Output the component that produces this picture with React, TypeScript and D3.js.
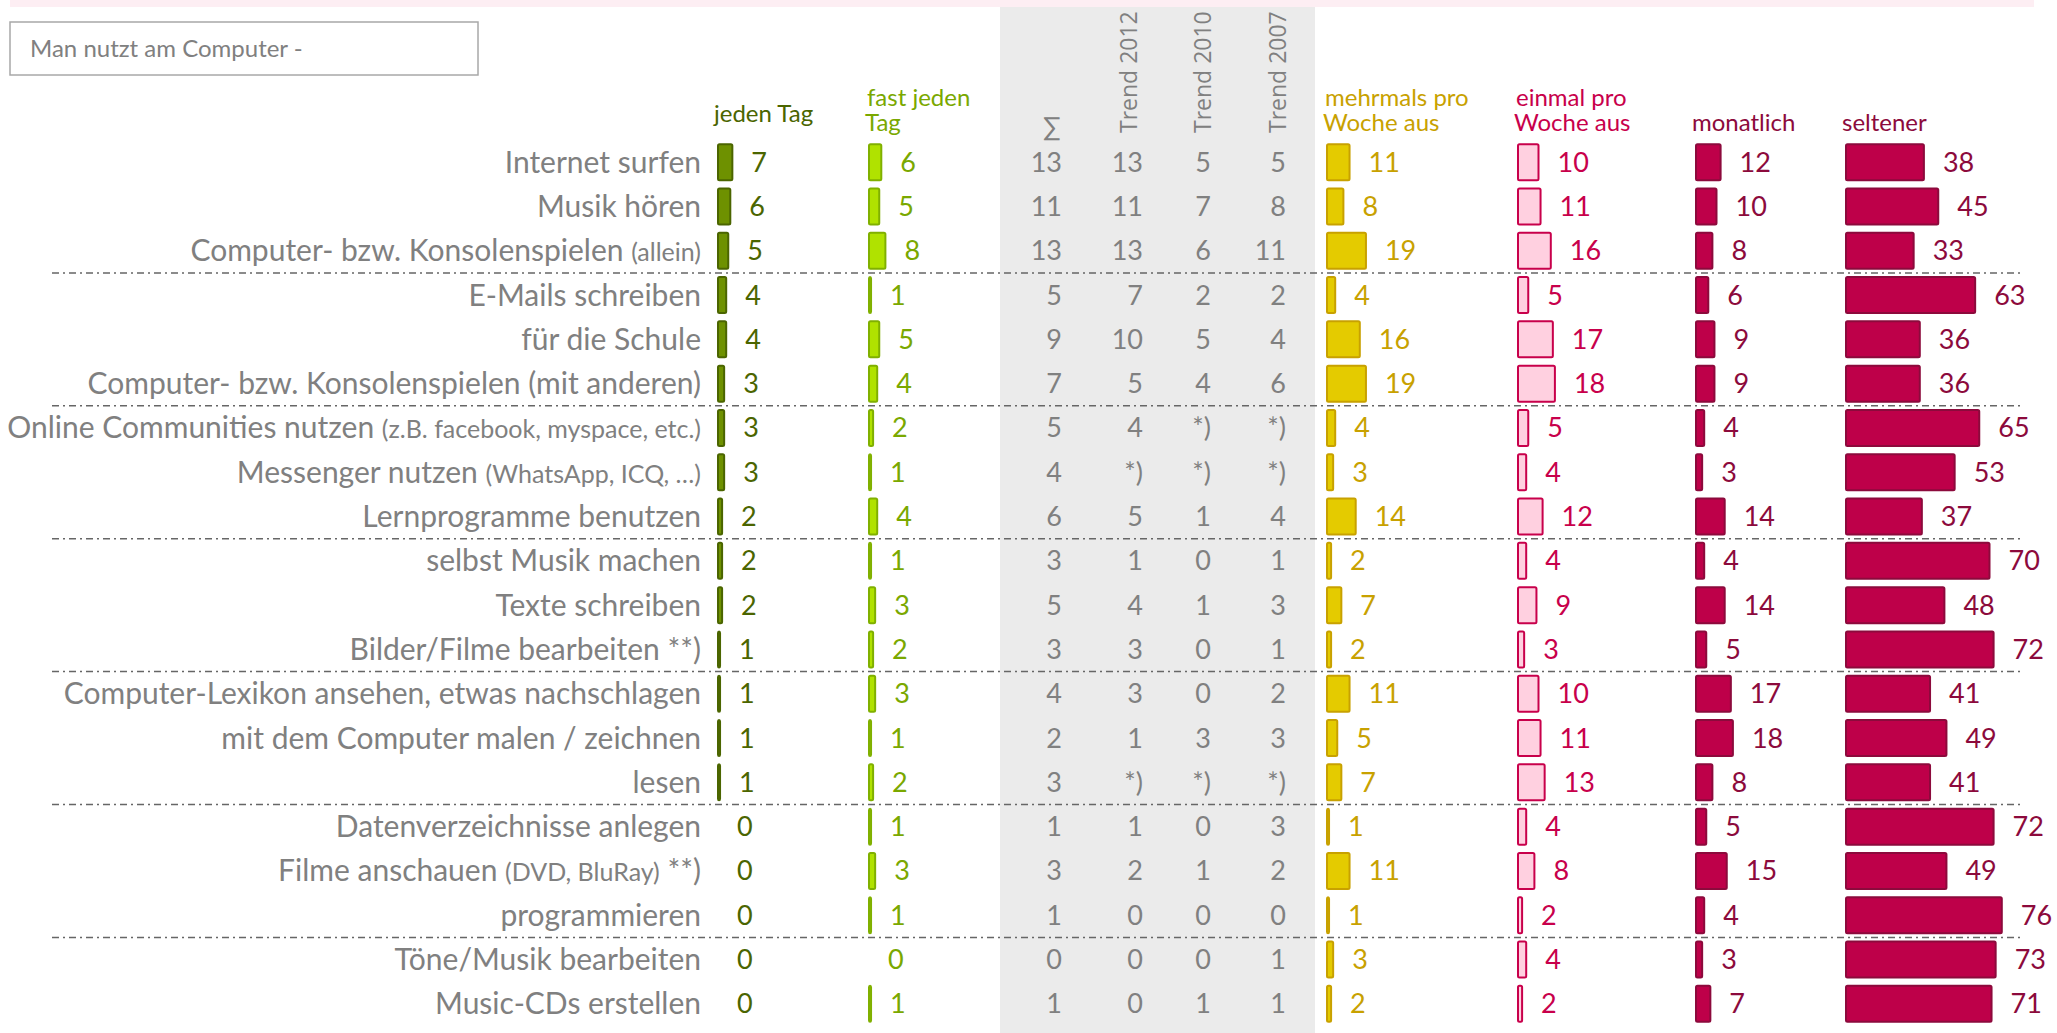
import React from 'react';
import * as d3 from 'd3';

// activities, {} marks the smaller note text
const activities = [
  'Internet surfen',
  'Musik hören',
  'Computer- bzw. Konsolenspielen {(allein)}',
  'E-Mails schreiben',
  'für die Schule',
  'Computer- bzw. Konsolenspielen (mit anderen)',
  'Online Communities nutzen {(z.B. facebook, myspace, etc.)}',
  'Messenger nutzen {(WhatsApp, ICQ, …)}',
  'Lernprogramme benutzen',
  'selbst Musik machen',
  'Texte schreiben',
  'Bilder/Filme bearbeiten **)',
  'Computer-Lexikon ansehen, etwas nachschlagen',
  'mit dem Computer malen / zeichnen',
  'lesen',
  'Datenverzeichnisse anlegen',
  'Filme anschauen {(DVD, BluRay)} **)',
  'programmieren',
  'Töne/Musik bearbeiten',
  'Music-CDs erstellen',
];

const jedenTag = [7, 6, 5, 4, 4, 3, 3, 3, 2, 2, 2, 1, 1, 1, 1, 0, 0, 0, 0, 0];
const fastJedenTag = [6, 5, 8, 1, 5, 4, 2, 1, 4, 1, 3, 2, 3, 1, 2, 1, 3, 1, 0, 1];
const summe = [13, 11, 13, 5, 9, 7, 5, 4, 6, 3, 5, 3, 4, 2, 3, 1, 3, 1, 0, 1];
// null = *) not asked that year
const trend2012 = [13, 11, 13, 7, 10, 5, 4, null, 5, 1, 4, 3, 3, 1, null, 1, 2, 0, 0, 0];
const trend2010 = [5, 7, 6, 2, 5, 4, null, null, 1, 0, 1, 0, 0, 3, null, 0, 1, 0, 0, 1];
const trend2007 = [5, 8, 11, 2, 4, 6, null, null, 4, 1, 3, 1, 2, 3, null, 3, 2, 0, 1, 1];
const mehrmalsProWoche = [11, 8, 19, 4, 16, 19, 4, 3, 14, 2, 7, 2, 11, 5, 7, 1, 11, 1, 3, 2];
const einmalProWoche = [10, 11, 16, 5, 17, 18, 5, 4, 12, 4, 9, 3, 10, 11, 13, 4, 8, 2, 4, 2];
const monatlich = [12, 10, 8, 6, 9, 9, 4, 3, 14, 4, 14, 5, 17, 18, 8, 5, 15, 4, 3, 7];
const seltener = [38, 45, 33, 63, 36, 36, 65, 53, 37, 70, 48, 72, 41, 49, 41, 72, 49, 76, 73, 71];

const W = 2057;
const H = 1033;
const FONT = 'Lato, "Open Sans", sans-serif';
const GREY = '#808080';

const y = d3.scaleBand<number>().domain(d3.range(activities.length)).range([140, 1026]);
const x = d3.scaleLinear().domain([0, 100]).range([0, 205]);

const barCols = [
  { values: jedenTag, x0: 717, fill: '#6e9100', stroke: '#4b6500', text: '#4b6500', head: ['', 'jeden Tag'] },
  { values: fastJedenTag, x0: 868, fill: '#b0e200', stroke: '#80b000', text: '#7aa800', head: ['fast jeden', 'Tag'] },
  { values: mehrmalsProWoche, x0: 1326, fill: '#e4cb00', stroke: '#c8a100', text: '#c8a100', head: ['mehrmals pro', 'Woche aus'] },
  { values: einmalProWoche, x0: 1517, fill: '#ffd0e0', stroke: '#c8004b', text: '#c8004b', head: ['einmal pro', 'Woche aus'] },
  { values: monatlich, x0: 1695, fill: '#be0049', stroke: '#8c0a3c', text: '#8c0a3c', head: ['', 'monatlich'] },
  { values: seltener, x0: 1845, fill: '#be0049', stroke: '#8c0a3c', text: '#8c0a3c', head: ['', 'seltener'] },
];

const numCols = [
  { values: summe, xr: 1062 },
  { values: trend2012, xr: 1143 },
  { values: trend2010, xr: 1211 },
  { values: trend2007, xr: 1286 },
];
const trendHeads = [
  { label: 'Trend 2012', xb: 1137 },
  { label: 'Trend 2010', xb: 1211 },
  { label: 'Trend 2007', xb: 1286 },
];

const separators = [2, 5, 8, 11, 14, 17];

const Label = ({ text, cy }: { text: string; cy: number }) => {
  const parts = text.split(/[{}]/);
  return (
    <text x={701} y={cy} dy="0.35em" textAnchor="end" fill={GREY} fontFamily={FONT} fontSize={30}>
      {parts.map((p, i) => (
        <tspan key={i} fontSize={i % 2 === 1 ? 25 : 30}>
          {p}
        </tspan>
      ))}
    </text>
  );
};

export default function App() {
  const step = y.step();
  const barH = 36;
  return (
    <svg width={W} height={H} style={{ position: 'absolute', left: 0, top: 0 }}>
      <rect x={0} y={0} width={W} height={H} fill="#fff" />
      <rect x={10} y={0} width={2024} height={7} fill="#fdeef3" />
      <rect x={1000} y={7} width={315} height={H - 7} fill="#ebebeb" />

      <rect x={10} y={22} width={468} height={53} fill="#fff" stroke="#a8a8a8" strokeWidth={1.5} />
      <text x={30} y={57} fill={GREY} fontFamily={FONT} fontSize={24}>
        Man nutzt am Computer -
      </text>

      {/* column heads */}
      {barCols.map((c, i) => (
        <g key={i} fill={c.text} fontFamily={FONT} fontSize={24}>
          {c.head[0] && (
            <text x={c.x0 - 1} y={106}>
              {c.head[0]}
            </text>
          )}
          <text x={c.x0 - 3} y={i === 0 ? 122 : 131}>
            {c.head[1]}
          </text>
        </g>
      ))}
      <text x={1052} y={136} textAnchor="middle" fill={GREY} fontFamily={FONT} fontSize={26}>
        ∑
      </text>
      {trendHeads.map((t) => (
        <text
          key={t.label}
          transform={`translate(${t.xb},133) rotate(-90)`}
          fill={GREY}
          fontFamily='"Open Sans", sans-serif'
          fontSize={23}
        >
          {t.label}
        </text>
      ))}

      {/* rows */}
      {activities.map((a, r) => {
        const cy = (y(r) as number) + step / 2;
        return (
          <g key={r}>
            <Label text={a} cy={cy} />
            {barCols.map((c, i) => {
              const v = c.values[r];
              return (
                <g key={i}>
                  {v > 0 && (
                    <rect
                      x={c.x0 + 1}
                      y={cy - barH / 2}
                      width={x(v)}
                      height={barH}
                      rx={1.5}
                      fill={c.fill}
                      stroke={c.stroke}
                      strokeWidth={2}
                    />
                  )}
                  <text x={c.x0 + 2 + x(v) + 18} y={cy} dy="0.35em" fill={c.text} fontFamily={FONT} fontSize={27}>
                    {v}
                  </text>
                </g>
              );
            })}
            {numCols.map((c, i) => {
              const v = c.values[r];
              return (
                <text key={i} x={c.xr} y={cy} dy="0.35em" textAnchor="end" fill={GREY} fontFamily={FONT} fontSize={27}>
                  {v === null ? '*)' : v}
                </text>
              );
            })}
          </g>
        );
      })}

      {separators.map((r) => (
        <line
          key={r}
          x1={52}
          x2={2020}
          y1={y(r + 1)}
          y2={y(r + 1)}
          stroke="#666"
          strokeWidth={1.5}
          strokeDasharray="7,4,2,4"
        />
      ))}
    </svg>
  );
}
